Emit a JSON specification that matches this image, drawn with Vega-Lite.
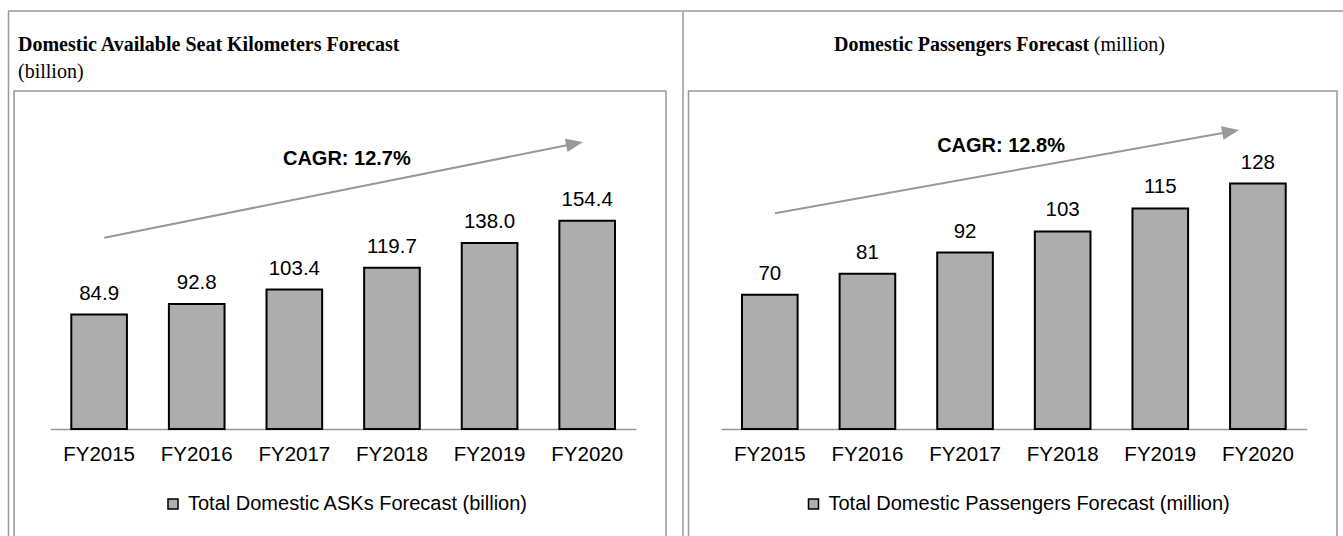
{
  "$schema": "https://vega.github.io/schema/vega-lite/v6.json",
  "padding": {"left": 6, "top": 9, "right": 0, "bottom": 0},
  "background": "white",
  "datasets": {
    "asks": [
      {"year": "FY2015", "value": 84.9},
      {"year": "FY2016", "value": 92.8},
      {"year": "FY2017", "value": 103.4},
      {"year": "FY2018", "value": 119.7},
      {"year": "FY2019", "value": 138.0},
      {"year": "FY2020", "value": 154.4}
    ],
    "pax": [
      {"year": "FY2015", "value": 70},
      {"year": "FY2016", "value": 81},
      {"year": "FY2017", "value": 92},
      {"year": "FY2018", "value": 103},
      {"year": "FY2019", "value": 115},
      {"year": "FY2020", "value": 128}
    ],
    "ann_asks": [{"label": "CAGR: 12.7%"}],
    "ann_pax": [{"label": "CAGR: 12.8%"}],
    "unit_pax": [{"label": "(million)"}],
    "one": [{"id": 1}]
  },
  "spacing": 22.5,
  "bounds": "flush",
  "resolve": {
    "scale": {"x": "independent", "y": "independent", "fill": "independent"},
    "legend": {"fill": "independent"}
  },
  "hconcat": [
    {
      "width": 652,
      "height": 448,
      "title": {
        "text": "Domestic Available Seat Kilometers Forecast",
        "subtitle": "(billion)",
        "anchor": "start",
        "frame": "group",
        "dx": 4,
        "offset": -72,
        "font": "Liberation Serif",
        "fontSize": 20,
        "fontWeight": "bold",
        "color": "black",
        "subtitleFont": "Liberation Serif",
        "subtitleFontSize": 20,
        "subtitleFontWeight": "normal",
        "subtitleColor": "black",
        "subtitlePadding": 7
      },
      "layer": [
        {
          "data": {"name": "asks"},
          "mark": {"type": "bar", "stroke": "black", "strokeWidth": 2},
          "encoding": {
            "x": {
              "field": "year", "type": "ordinal",
              "scale": {"range": [36.3, 622], "paddingInner": 0.43, "paddingOuter": 0.215},
              "axis": {"orient": "bottom", "offset": -110}
            },
            "y": {
              "field": "value", "type": "quantitative",
              "scale": {"domain": [-81.6, 310.09], "range": [448, -80], "nice": false, "zero": false},
              "axis": {"orient": "left", "offset": 6}
            },
            "y2": {"datum": 0},
            "fill": {
              "datum": "Total Domestic ASKs Forecast (billion)", "type": "nominal",
              "scale": {"range": ["#adadad"]},
              "legend": {"orient": "none", "legendX": 149, "legendY": 403}
            }
          }
        },
        {
          "data": {"name": "asks"},
          "mark": {"type": "text", "dy": -15, "baseline": "alphabetic", "align": "center", "font": "Liberation Sans", "fontSize": 20.5, "color": "black"},
          "encoding": {
            "x": {"field": "year", "type": "ordinal"},
            "y": {"field": "value", "type": "quantitative"},
            "text": {"field": "value", "type": "quantitative", "format": ".1f"}
          }
        },
        {
          "data": {"name": "one"},
          "mark": {"type": "rule", "color": "#999999", "strokeWidth": 2, "xOffset": 5.2, "x2Offset": -19},
          "encoding": {
            "x": {"datum": "FY2015", "type": "ordinal"},
            "x2": {"datum": "FY2020"},
            "y": {"datum": 141.9, "type": "quantitative"},
            "y2": {"datum": 210.7}
          }
        },
        {
          "data": {"name": "one"},
          "mark": {"type": "point", "shape": "M1,0L-1,-0.8L-1,0.8Z", "size": 289, "angle": 348.7, "filled": true, "color": "#999999", "opacity": 1, "strokeWidth": 0, "xOffset": -12.6},
          "encoding": {
            "x": {"datum": "FY2020", "type": "ordinal"},
            "y": {"datum": 211.7, "type": "quantitative"}
          }
        },
        {
          "data": {"name": "ann_asks"},
          "mark": {"type": "text", "font": "Liberation Sans", "fontSize": 20, "fontWeight": "bold", "color": "black", "align": "center", "baseline": "alphabetic", "dx": 52.5},
          "encoding": {
            "x": {"datum": "FY2017", "type": "ordinal"},
            "y": {"datum": 196.2, "type": "quantitative"},
            "text": {"field": "label", "type": "nominal"}
          }
        },
        {
          "data": {"name": "one"},
          "mark": {"type": "rule", "color": "#999999", "strokeWidth": 1.5, "xOffset": -91.1, "x2Offset": 94.9},
          "encoding": {
            "x": {"datum": "FY2015", "type": "ordinal"},
            "x2": {"datum": "FY2020"},
            "y": {"datum": 310.09, "type": "quantitative"}
          }
        }
      ]
    },
    {
      "width": 648.5,
      "height": 448,
      "title": {
        "text": "Domestic Passengers Forecast",
        "anchor": "start",
        "frame": "group",
        "dx": 145.5,
        "offset": -45,
        "font": "Liberation Serif",
        "fontSize": 20,
        "fontWeight": "bold",
        "color": "black"
      },
      "layer": [
        {
          "data": {"name": "pax"},
          "mark": {"type": "bar", "stroke": "black", "strokeWidth": 2},
          "encoding": {
            "x": {
              "field": "year", "type": "ordinal",
              "scale": {"range": [32.5, 618.2], "paddingInner": 0.43, "paddingOuter": 0.215},
              "axis": {"orient": "bottom", "offset": -110}
            },
            "y": {
              "field": "value", "type": "quantitative",
              "scale": {"domain": [-57.35, 217.94], "range": [448, -80], "nice": false, "zero": false},
              "axis": {"orient": "left", "offset": 6}
            },
            "y2": {"datum": 0},
            "fill": {
              "datum": "Total Domestic Passengers Forecast (million)", "type": "nominal",
              "scale": {"range": ["#adadad"]},
              "legend": {"orient": "none", "legendX": 115, "legendY": 403}
            }
          }
        },
        {
          "data": {"name": "pax"},
          "mark": {"type": "text", "dy": -15, "baseline": "alphabetic", "align": "center", "font": "Liberation Sans", "fontSize": 20.5, "color": "black"},
          "encoding": {
            "x": {"field": "year", "type": "ordinal"},
            "y": {"field": "value", "type": "quantitative"},
            "text": {"field": "value", "type": "quantitative", "format": "d"}
          }
        },
        {
          "data": {"name": "one"},
          "mark": {"type": "rule", "color": "#999999", "strokeWidth": 2, "xOffset": 5.2, "x2Offset": -33.8},
          "encoding": {
            "x": {"datum": "FY2015", "type": "ordinal"},
            "x2": {"datum": "FY2020"},
            "y": {"datum": 112.5, "type": "quantitative"},
            "y2": {"datum": 154.5}
          }
        },
        {
          "data": {"name": "one"},
          "mark": {"type": "point", "shape": "M1,0L-1,-0.8L-1,0.8Z", "size": 289, "angle": 349.8, "filled": true, "color": "#999999", "opacity": 1, "strokeWidth": 0, "xOffset": -27.2},
          "encoding": {
            "x": {"datum": "FY2020", "type": "ordinal"},
            "y": {"datum": 155.1, "type": "quantitative"}
          }
        },
        {
          "data": {"name": "ann_pax"},
          "mark": {"type": "text", "font": "Liberation Sans", "fontSize": 20, "fontWeight": "bold", "color": "black", "align": "center", "baseline": "alphabetic", "dx": 36},
          "encoding": {
            "x": {"datum": "FY2017", "type": "ordinal"},
            "y": {"datum": 144.4, "type": "quantitative"},
            "text": {"field": "label", "type": "nominal"}
          }
        },
        {
          "data": {"name": "unit_pax"},
          "mark": {"type": "text", "font": "Liberation Serif", "fontSize": 20, "fontWeight": "normal", "color": "black", "align": "left", "baseline": "alphabetic", "dx": -66.5},
          "encoding": {
            "x": {"datum": "FY2019", "type": "ordinal"},
            "y": {"datum": 196.95, "type": "quantitative"},
            "text": {"field": "label", "type": "nominal"}
          }
        },
        {
          "data": {"name": "one"},
          "mark": {"type": "rule", "color": "#999999", "strokeWidth": 1.5, "xOffset": -87.3, "x2Offset": 86.2},
          "encoding": {
            "x": {"datum": "FY2015", "type": "ordinal"},
            "x2": {"datum": "FY2020"},
            "y": {"datum": 217.94, "type": "quantitative"}
          }
        }
      ]
    }
  ],
  "config": {
    "view": {"stroke": "#999999", "strokeWidth": 1.5},
    "font": "Liberation Sans",
    "axisX": {
      "labelAngle": 0, "labelPadding": 15.5, "ticks": false, "tickSize": 0,
      "domainColor": "#999999", "domainWidth": 1.5,
      "labelFont": "Liberation Sans", "labelFontSize": 20.5, "labelColor": "black",
      "title": null, "grid": false
    },
    "axisY": {
      "labels": false, "ticks": false, "grid": false, "title": null,
      "domainColor": "#999999", "domainWidth": 1.5
    },
    "legend": {
      "title": null, "padding": 0,
      "labelFont": "Liberation Sans", "labelFontSize": 20, "labelColor": "black", "labelLimit": 800, "labelOffset": 5,
      "symbolType": "square", "symbolSize": 100, "symbolStrokeColor": "black", "symbolStrokeWidth": 1.5
    }
  }
}
